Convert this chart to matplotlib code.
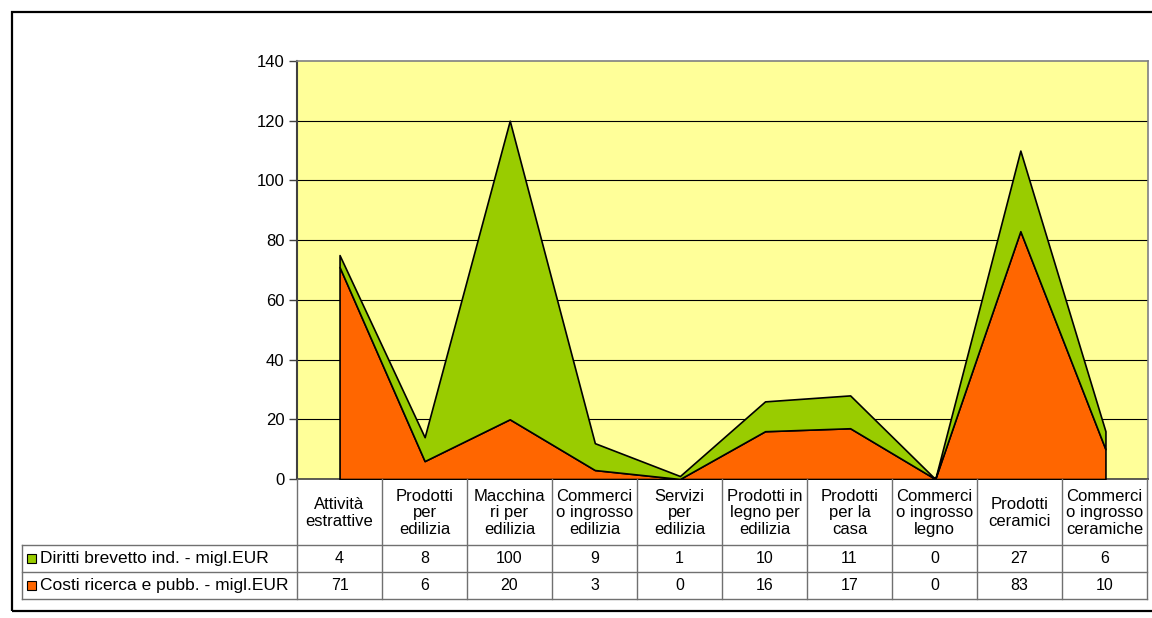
import matplotlib
matplotlib.use("Agg")
import matplotlib.pyplot as plt
from matplotlib.lines import Line2D
from matplotlib.patches import Rectangle
import numpy as np

plt.rcParams['font.family'] = ['Liberation Sans', 'DejaVu Sans']

categories = ["Attività\nestrattive", "Prodotti\nper\nedilizia", "Macchina\nri per\nedilizia",
              "Commerci\no ingrosso\nedilizia", "Servizi\nper\nedilizia", "Prodotti in\nlegno per\nedilizia",
              "Prodotti\nper la\ncasa", "Commerci\no ingrosso\nlegno", "Prodotti\nceramici",
              "Commerci\no ingrosso\nceramiche"]
diritti = [4, 8, 100, 9, 1, 10, 11, 0, 27, 6]
costi = [71, 6, 20, 3, 0, 16, 17, 0, 83, 10]
series_names = ["Diritti brevetto ind. - migl.EUR", "Costi ricerca e pubb. - migl.EUR"]
yticks = [0, 20, 40, 60, 80, 100, 120, 140]

GREEN = "#99CC00"
ORANGE = "#FF6600"
YELLOW = "#FFFF99"

W, H = 1152, 618
fig = plt.figure(figsize=(W / 100, H / 100), dpi=100)

def fx(x):
    return x / W

def fy(y):
    return 1 - y / H

# plot area in pixels
L, R, T, B = 297, 1148, 61, 479
ax = fig.add_axes([fx(L), fy(B), fx(R) - fx(L), fy(T) - fy(B)])
ax.set_facecolor(YELLOW)
n = len(categories)
x = np.arange(n)
c = np.array(costi, dtype=float)
d = np.array(diritti, dtype=float)
ax.fill_between(x, 0, c, facecolor=ORANGE, edgecolor="black", linewidth=1.2, zorder=3)
ax.fill_between(x, c, c + d, facecolor=GREEN, edgecolor="black", linewidth=1.2, zorder=3)
ax.set_xlim(-0.5, n - 0.5)
ax.set_ylim(0, 140)
ax.set_yticks(yticks)
ax.set_yticklabels([str(v) for v in yticks], fontsize=12)
for v in yticks[1:-1]:
    ax.axhline(v, color="black", linewidth=0.8, zorder=1)
ax.set_xticks([])
for s in ["top", "right"]:
    ax.spines[s].set_color("#808080")
    ax.spines[s].set_linewidth(1.2)
ax.spines["left"].set_color("#404040")
ax.spines["left"].set_linewidth(1.5)
ax.spines["bottom"].set_color("#404040")
ax.spines["bottom"].set_linewidth(1.2)
ax.tick_params(axis="y", direction="out", length=6, width=1, color="#404040", pad=3)

# outer frame
fig.patches.append(Rectangle((fx(12), fy(611)), fx(1200) - fx(12), fy(12) - fy(611),
                             transform=fig.transFigure, fill=False, edgecolor="black", linewidth=1.6))

# data table
TL = 22
TR = 1147
hdr_bot, row1_bot, row2_bot = 545, 572, 599
colw = (TR - L) / n
gc = "#707070"
lw = 1.0

def hline(x0, x1, y):
    fig.add_artist(Line2D([fx(x0), fx(x1)], [fy(y), fy(y)], transform=fig.transFigure, color=gc, linewidth=lw))

def vline(xp, y0, y1):
    fig.add_artist(Line2D([fx(xp), fx(xp)], [fy(y0), fy(y1)], transform=fig.transFigure, color=gc, linewidth=lw))

for i in range(n + 1):
    vline(L + i * colw, B, row2_bot)
vline(TL, hdr_bot, row2_bot)
for yy in [hdr_bot, row1_bot, row2_bot]:
    hline(TL, TR, yy)

for i, cat in enumerate(categories):
    cx = L + (i + 0.5) * colw
    fig.text(fx(cx), fy((B + hdr_bot) / 2 + 1), cat, ha="center", va="center", fontsize=12,
             linespacing=1.12)

rows = [(diritti, GREEN), (costi, ORANGE)]
row_tops = [hdr_bot, row1_bot]
row_bots = [row1_bot, row2_bot]
for (vals, col), name, t, b in zip(rows, series_names, row_tops, row_bots):
    cy = (t + b) / 2
    fig.patches.append(Rectangle((fx(27), fy(cy + 4.5)), fx(9), fy(0) - fy(9),
                                 transform=fig.transFigure, facecolor=col, edgecolor="black", linewidth=0.8))
    fig.text(fx(40), fy(cy), name, ha="left", va="center", fontsize=12.5)
    for i, v in enumerate(vals):
        cx = L + (i + 0.5) * colw
        fig.text(fx(cx), fy(cy), str(v), ha="center", va="center", fontsize=11.5)

fig.savefig("out.png", dpi=100)
